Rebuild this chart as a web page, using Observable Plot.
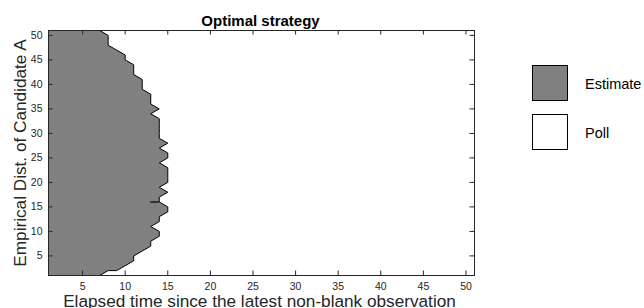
<!DOCTYPE html>
<html>
<head>
<meta charset="utf-8">
<script src="https://cdn.jsdelivr.net/npm/d3@7"></script>
<script src="https://cdn.jsdelivr.net/npm/@observablehq/plot@0.6"></script>
<style>
  html, body { margin: 0; padding: 0; background: #fff; }
  #chart { position: relative; width: 644px; height: 308px; overflow: hidden;
           font-family: "Liberation Sans", Arial, Helvetica, sans-serif; }
  #chart svg { display: block; }
  #legend { position: absolute; left: 0; top: 0; }
</style>
</head>
<body>
<div id="chart"></div>
<script>
// ---------- data ----------
const titleText = "Optimal strategy";
const xLabelText = "Elapsed time since the latest non-blank observation";
const yLabelText = "Empirical Dist. of Candidate A";
const xTicks = [5, 10, 15, 20, 25, 30, 35, 40, 45, 50];
const yTicks = [5, 10, 15, 20, 25, 30, 35, 40, 45, 50];
const xDomain = [1, 51];
const yDomain = [1, 51];
// Rows of the grid (empirical distribution of candidate A)
const rowY = [1,2,3,4,5,6,7,8,9,10,11,12,13,14,15,16,17,18,19,20,21,22,23,24,25,26,
              27,28,29,30,31,32,33,34,35,36,37,38,39,40,41,42,43,44,45,46,47,48,49,50,51];
// For each row: last elapsed time at which "Estimate" is optimal
const estimateEdge = [7,9,10,11,11,12,13,13,14,14,13,14,14,15,15,14,14,15,14,15,15,15,15,14,15,15,
                      14,15,14,14,14,14,14,13,14,13,13,13,12,12,12,11,11,11,10,10,9,8,8,8,7];
// Isolated degenerate contour segment seen in the figure
const spikeRows = [{y: 16, x1: 13, x2: 14}];
const legendLabels = ["Estimate", "Poll"];
const legendColors = ["#808080", "#ffffff"];

// ---------- chart ----------
const W = 644, H = 308, mL = 48, mR = 170, mT = 30, mB = 33;
const fw = W - mL - mR, fh = H - mT - mB;
const axisColor = "#262626";
const font = "'Liberation Sans', Arial, Helvetica, sans-serif";

const edgeByRow = new Map(rowY.map((y, i) => [y, estimateEdge[i]]));
const strategy = (x, y) => {
  const e = edgeByRow.get(Math.round(y));
  return e != null && Math.round(x) <= e ? 1 : 0;
};

const chart = Plot.plot({
  width: W, height: H,
  marginLeft: mL, marginRight: mR, marginTop: mT, marginBottom: mB,
  style: {fontFamily: font, fontSize: "11px", color: axisColor, background: "white", overflow: "visible"},
  x: {domain: xDomain},
  y: {domain: yDomain},
  marks: [
    Plot.contour({
      value: strategy,
      x1: 0.5, x2: 51.5, y1: 0.5, y2: 51.5, width: 51, height: 51,
      thresholds: [0.999],
      fill: "#808080", stroke: "black", strokeWidth: 1, clip: true
    }),
    Plot.ruleY(spikeRows, {y: "y", x1: "x1", x2: "x2", stroke: "black", strokeWidth: 1.2}),
    Plot.frame({stroke: axisColor, strokeWidth: 1}),
    Plot.tickX(xTicks, {x: d => d, insetTop: fh - 4.5, stroke: axisColor}),
    Plot.tickX(xTicks, {x: d => d, insetBottom: fh - 4.5, stroke: axisColor}),
    Plot.tickY(yTicks, {y: d => d, insetRight: fw - 4.5, stroke: axisColor}),
    Plot.tickY(yTicks, {y: d => d, insetLeft: fw - 4.5, stroke: axisColor}),
    Plot.axisX({ticks: xTicks, tickSize: 0, tickPadding: 7.5, label: null, fontSize: 10.5}),
    Plot.axisY({ticks: yTicks, tickSize: 0, tickPadding: 6, label: null, fontSize: 10.5}),
    Plot.text([titleText], {frameAnchor: "top", lineAnchor: "bottom", dy: -5, dx: -1,
                            fontSize: 15, fontWeight: "bold", fill: "black"}),
    Plot.text([xLabelText], {frameAnchor: "bottom", lineAnchor: "bottom", dy: 31.5, dx: -2,
                             fontSize: 17.2, fill: axisColor}),
    Plot.text([yLabelText], {frameAnchor: "left", textAnchor: "middle", lineAnchor: "bottom",
                             rotate: -90, dx: -23, fontSize: 17.2, fill: axisColor})
  ]
});
document.getElementById("chart").appendChild(chart);

// ---------- legend (overlay) ----------
const ns = "http://www.w3.org/2000/svg";
const leg = document.createElementNS(ns, "svg");
leg.setAttribute("id", "legend");
leg.setAttribute("width", W);
leg.setAttribute("height", H);
legendLabels.forEach((lab, i) => {
  const top = 65 + i * 49;
  const r = document.createElementNS(ns, "rect");
  r.setAttribute("x", 532.5); r.setAttribute("y", top + 0.5);
  r.setAttribute("width", 35); r.setAttribute("height", 35);
  r.setAttribute("fill", legendColors[i]); r.setAttribute("stroke", "black");
  r.setAttribute("stroke-width", 1);
  leg.appendChild(r);
  const t = document.createElementNS(ns, "text");
  t.setAttribute("x", 585); t.setAttribute("y", top + 23.5);
  t.setAttribute("font-family", font); t.setAttribute("font-size", 14.5);
  t.setAttribute("fill", "black");
  t.textContent = lab;
  leg.appendChild(t);
});
document.getElementById("chart").appendChild(leg);
</script>
</body>
</html>
